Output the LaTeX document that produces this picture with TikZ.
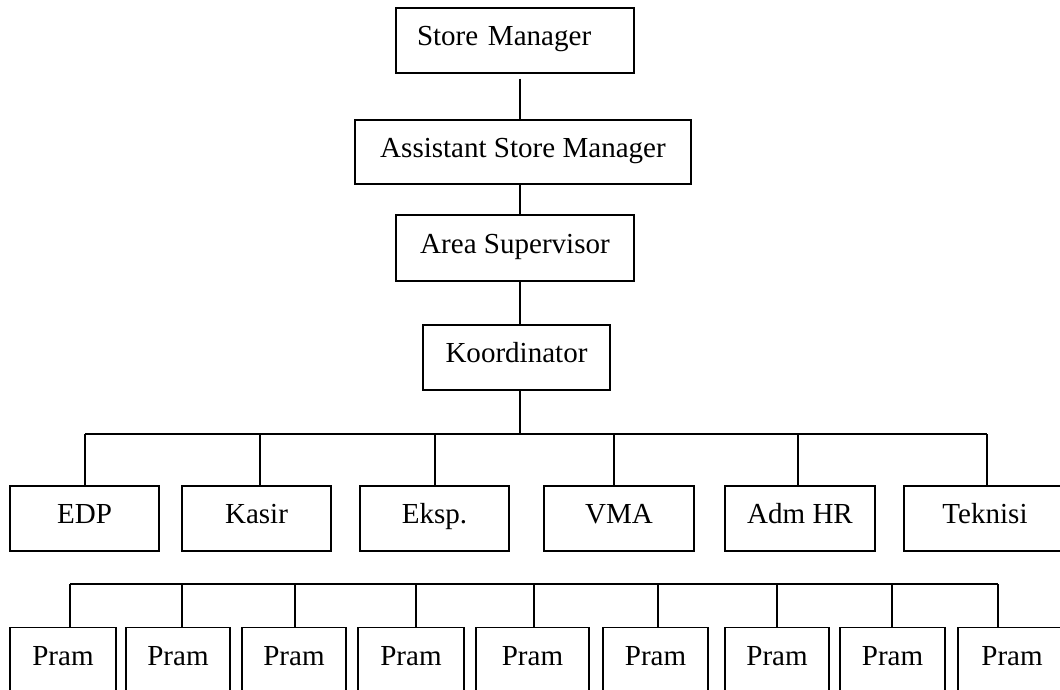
\documentclass[tikz,border=0pt]{standalone}
\usepackage{fontspec}
\setmainfont{Liberation Serif}
\newlength{\pxu}
\setlength{\pxu}{0.4132pt}

\begin{document}
\begin{tikzpicture}[x=\pxu, y=-\pxu, line width=0.6pt,
        box/.style={draw, inner sep=0pt, text height=8pt, text depth=3.5pt, font=\fontsize{12}{14}\selectfont},
        pram/.style={box, anchor=north, minimum width=#1\pxu, text height=38\pxu, text depth=40\pxu}]
        \useasboundingbox (0,0) rectangle (1060,689);
        \clip (0,0) rectangle (1060,689);
        \coordinate (spine) at (520,0);
        \node[box, minimum height=65\pxu, text width=196\pxu, inner xsep=21\pxu, align=left] (sm) at (515,40.5) {Store Manager};
        \node[box, minimum width=336\pxu, minimum height=64\pxu] (asm) at (523,152) {Assistant Store Manager};
        \node[box, minimum width=238\pxu, minimum height=66\pxu] (as) at (515,248) {Area Supervisor};
        \node[box, minimum width=187\pxu, minimum height=65\pxu] (ko) at (516.5,357.5) {Koordinator};
        \draw[shorten <=5\pxu] (sm.south -| spine) -- (asm.north -| spine);
        \draw (asm.south -| spine) -- (as.north -| spine);
        \draw (as.south -| spine) -- (ko.north -| spine);
        \foreach \n/\x/\w/\d/\t in {edp/84.5/149/85/EDP, kasir/256.5/149/260/Kasir, eksp/434.5/149/435/Eksp., vma/619/150/614/VMA, adm/800/150/798/Adm HR, tek/985/162/987/Teknisi} {
            \node[box, minimum width=\w\pxu, minimum height=65\pxu] (\n) at (\x,518.5) {\t};
            \coordinate (d\n) at (\d,434);
            \draw (d\n) -- (\n.north -| d\n);
        }
        \draw (dedp) -- (dtek);
        \draw (ko.south -| spine) -- (dedp -| spine);
        \foreach \i/\x/\w/\d in {1/63/106/70, 2/178/104/182, 3/294/104/295, 4/411/106/416, 5/532.5/113/534, 6/655.5/105/658, 7/777/104/777, 8/892.5/105/892, 9/1012/108/998} {
            \node[pram=\w] (p\i) at (\x,627) {Pram};
            \coordinate (q\i) at (\d,584);
            \draw (q\i) -- (p\i.north -| q\i);
        }
        \draw (q1) -- (q9);
    \end{tikzpicture}
\end{document}
